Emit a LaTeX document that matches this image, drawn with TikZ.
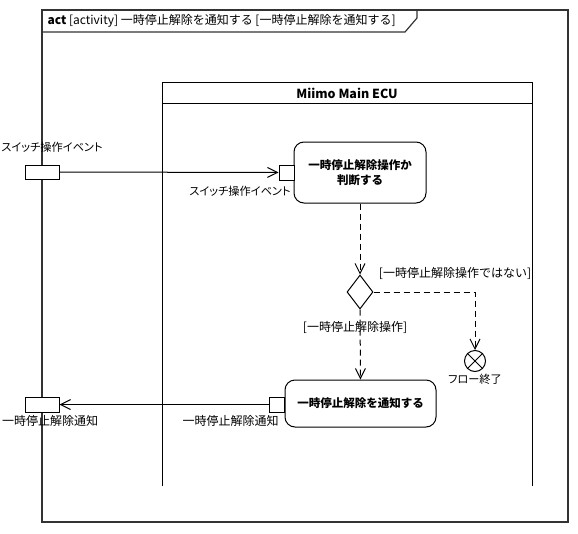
\documentclass[tikz,border=0pt]{standalone}
\usepackage{fontspec}
\setmainfont{Noto Sans CJK JP}
\newfontfamily\jpp[RawFeature=+palt]{Noto Sans CJK JP}
\usetikzlibrary{arrows.meta,shapes.geometric}
\begin{document}
\begin{tikzpicture}[x=1pt,y=-1pt,
  line width=1pt,
  every node/.style={font=\fontsize{12}{14}\selectfont},
  pinbox/.style={draw,fill=white,inner sep=0pt},
  actbox/.style={draw,fill=white,rounded corners=10pt,align=center,inner sep=2pt,
    font=\fontsize{11.5}{15}\selectfont\bfseries},
  lbl/.style={inner sep=0pt},
  kana/.style={lbl,font=\fontsize{11.2}{13}\selectfont\jpp},
  flow/.style={-{Straight Barb[length=10pt,width=10pt]}},
  dflow/.style={flow,dash pattern=on 6pt off 4pt}]
\useasboundingbox (0,0) rectangle (578,533);
% frame
\draw[line width=1.2pt,black!80] (42,10) rectangle (568,522);
\draw[line width=1.2pt,black!80] (42,32) -- (405,32) -- (417,18) -- (417,10);
\node[lbl,anchor=west] (title) at (47,21) {\textbf{act} [activity] 一時停止解除を通知する [一時停止解除を通知する]};
% partition
\draw (162,486) -- (162,82) -- (532,82) -- (532,486);
\draw (162,103) -- (532,103);
\node[lbl,font=\fontsize{12.5}{14}\selectfont\bfseries] (part) at (347,93) {Miimo Main ECU};
% frame pins
\node[pinbox,minimum width=34pt,minimum height=14pt] (inpin) at (42,172) {};
\node[kana] (inlbl) at (52,147) {スイッチ操作イベント};
\node[pinbox,minimum width=34pt,minimum height=15pt] (outpin) at (42,404.5) {};
\node[lbl] (outlbl) at (50,421) {一時停止解除通知};
% action 1
\node[actbox,minimum width=132pt,minimum height=61pt] (a1) at (360,172.5) {一時停止解除操作か\\判断する};
\node[pinbox,minimum size=15pt] (a1pin) at (286.5,172.5) {};
\node[kana] (a1lbl) at (240,191) {スイッチ操作イベント};
% decision
\node[draw,fill=white,diamond,minimum width=26pt,minimum height=34pt,inner sep=0pt] (dec) at (360,292) {};
\node[lbl] (notlbl) at (455,273) {[一時停止解除操作ではない]};
\node[lbl] (yeslbl) at (355,327) {[一時停止解除操作]};
% flow final
\node[draw,fill=white,circle,minimum size=21pt,inner sep=0pt] (ff) at (475,361) {};
\draw (ff.north west) -- (ff.south east);
\draw (ff.north east) -- (ff.south west);
\node[kana] (fflbl) at (475,379) {フロー終了};
\coordinate (corner) at (475,292);
% action 2
\node[actbox,minimum width=151pt,minimum height=47pt] (a2) at (360.5,403.5) {一時停止解除を通知する};
\node[pinbox,minimum size=15pt] (a2pin) at (277,404.5) {};
\node[lbl] (a2lbl) at (230.5,421) {一時停止解除通知};
% flows
\draw[flow] (inpin.east) -- (a1pin.west);
\draw[dflow] (a1.south) -- (dec.north);
\draw[dflow] (dec.east) -- (corner) -- (ff.north);
\draw[dflow] (dec.south) -- (a2.north);
\draw[flow] (a2pin.west) -- (outpin.east);
\end{tikzpicture}
\end{document}
